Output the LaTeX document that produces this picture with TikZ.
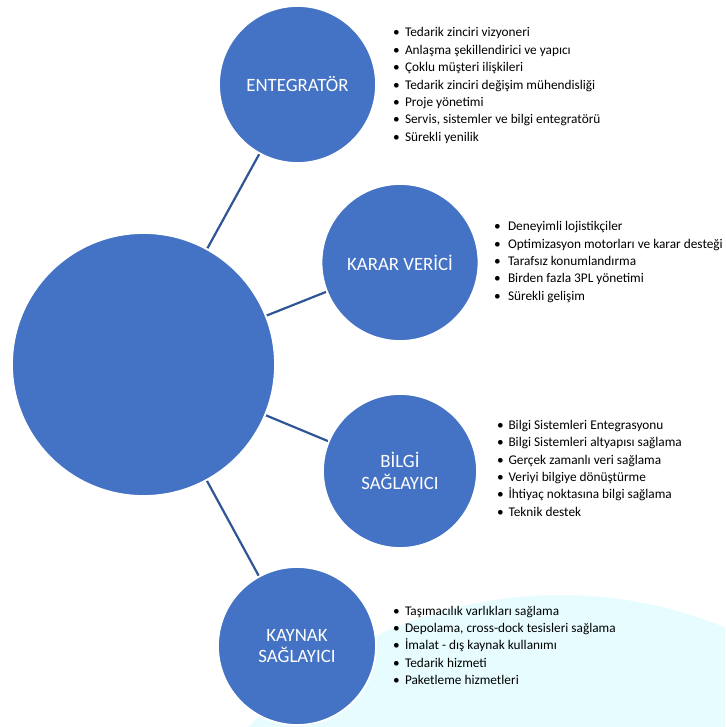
\documentclass[tikz,border=0pt]{standalone}
\usepackage{fontspec}
\setmainfont{Carlito}
\usetikzlibrary{backgrounds}
\definecolor{cblue}{HTML}{4472C4}
\definecolor{lblue}{HTML}{2F5597}
\definecolor{bgcyan}{RGB}{230,252,255}
\begin{document}
\begin{tikzpicture}[x=1pt,y=-1pt,
  bubble/.style={circle,fill=cblue,draw=white,line width=1.8pt,inner sep=0pt,
    text=white,align=center,font=\fontsize{18.8}{21.5}\selectfont},
  link/.style={draw=lblue,line width=2.2pt},
  blist/.style={anchor=base west,inner sep=0pt,outer sep=0pt,text=black,
    font=\fontsize{13.3}{17.4}\selectfont}]
\useasboundingbox (0,0) rectangle (725,727);
\node[bubble,minimum size=263pt] (hub) at (143.5,364.5) {};
\node[bubble,minimum size=157pt] (ent) at (297.5,84.5) {ENTEGRATÖR};
\node[bubble,minimum size=157pt] (kar) at (400,262.5) {KARAR VERİCİ};
\node[bubble,minimum size=154pt] (bil) at (400,471) {BİLGİ\\SAĞLAYICI};
\node[bubble,minimum size=158pt] (kay) at (297,646) {KAYNAK\\SAĞLAYICI};
\begin{scope}[on background layer]
\clip (0,0) rectangle (725,727);
\fill[bgcyan] (560,1029) circle (434);
\end{scope}
\begin{scope}[on background layer]
\draw[link] (hub) -- (ent);
\draw[link] (hub) -- (kar);
\draw[link] (hub) -- (bil);
\draw[link] (hub) -- (kay);
\end{scope}
\node[blist] (l1) at (393,37) {\begin{tabular}[t]{@{}l@{}}
\makebox[12pt][l]{•}Tedarik zinciri vizyoneri\\
\makebox[12pt][l]{•}Anlaşma şekillendirici ve yapıcı\\
\makebox[12pt][l]{•}Çoklu müşteri ilişkileri\\
\makebox[12pt][l]{•}Tedarik zinciri değişim mühendisliği\\
\makebox[12pt][l]{•}Proje yönetimi\\
\makebox[12pt][l]{•}Servis, sistemler ve bilgi entegratörü\\
\makebox[12pt][l]{•}Sürekli yenilik
\end{tabular}};
\node[blist] (l2) at (494,230.7) {\begin{tabular}[t]{@{}l@{}}
\makebox[14pt][l]{•}Deneyimli lojistikçiler\\
\makebox[14pt][l]{•}Optimizasyon motorları ve karar desteği\\
\makebox[14pt][l]{•}Tarafsız konumlandırma\\
\makebox[14pt][l]{•}Birden fazla 3PL yönetimi\\
\makebox[14pt][l]{•}Sürekli gelişim
\end{tabular}};
\node[blist] (l3) at (497,429.3) {\begin{tabular}[t]{@{}l@{}}
\makebox[11.5pt][l]{•}Bilgi Sistemleri Entegrasyonu\\
\makebox[11.5pt][l]{•}Bilgi Sistemleri altyapısı sağlama\\
\makebox[11.5pt][l]{•}Gerçek zamanlı veri sağlama\\
\makebox[11.5pt][l]{•}Veriyi bilgiye dönüştürme\\
\makebox[11.5pt][l]{•}İhtiyaç noktasına bilgi sağlama\\
\makebox[11.5pt][l]{•}Teknik destek
\end{tabular}};
\node[blist] (l4) at (393,615) {\begin{tabular}[t]{@{}l@{}}
\makebox[12pt][l]{•}Taşımacılık varlıkları sağlama\\
\makebox[12pt][l]{•}Depolama, cross-dock tesisleri sağlama\\
\makebox[12pt][l]{•}İmalat - dış kaynak kullanımı\\
\makebox[12pt][l]{•}Tedarik hizmeti\\
\makebox[12pt][l]{•}Paketleme hizmetleri
\end{tabular}};
\end{tikzpicture}
\end{document}
